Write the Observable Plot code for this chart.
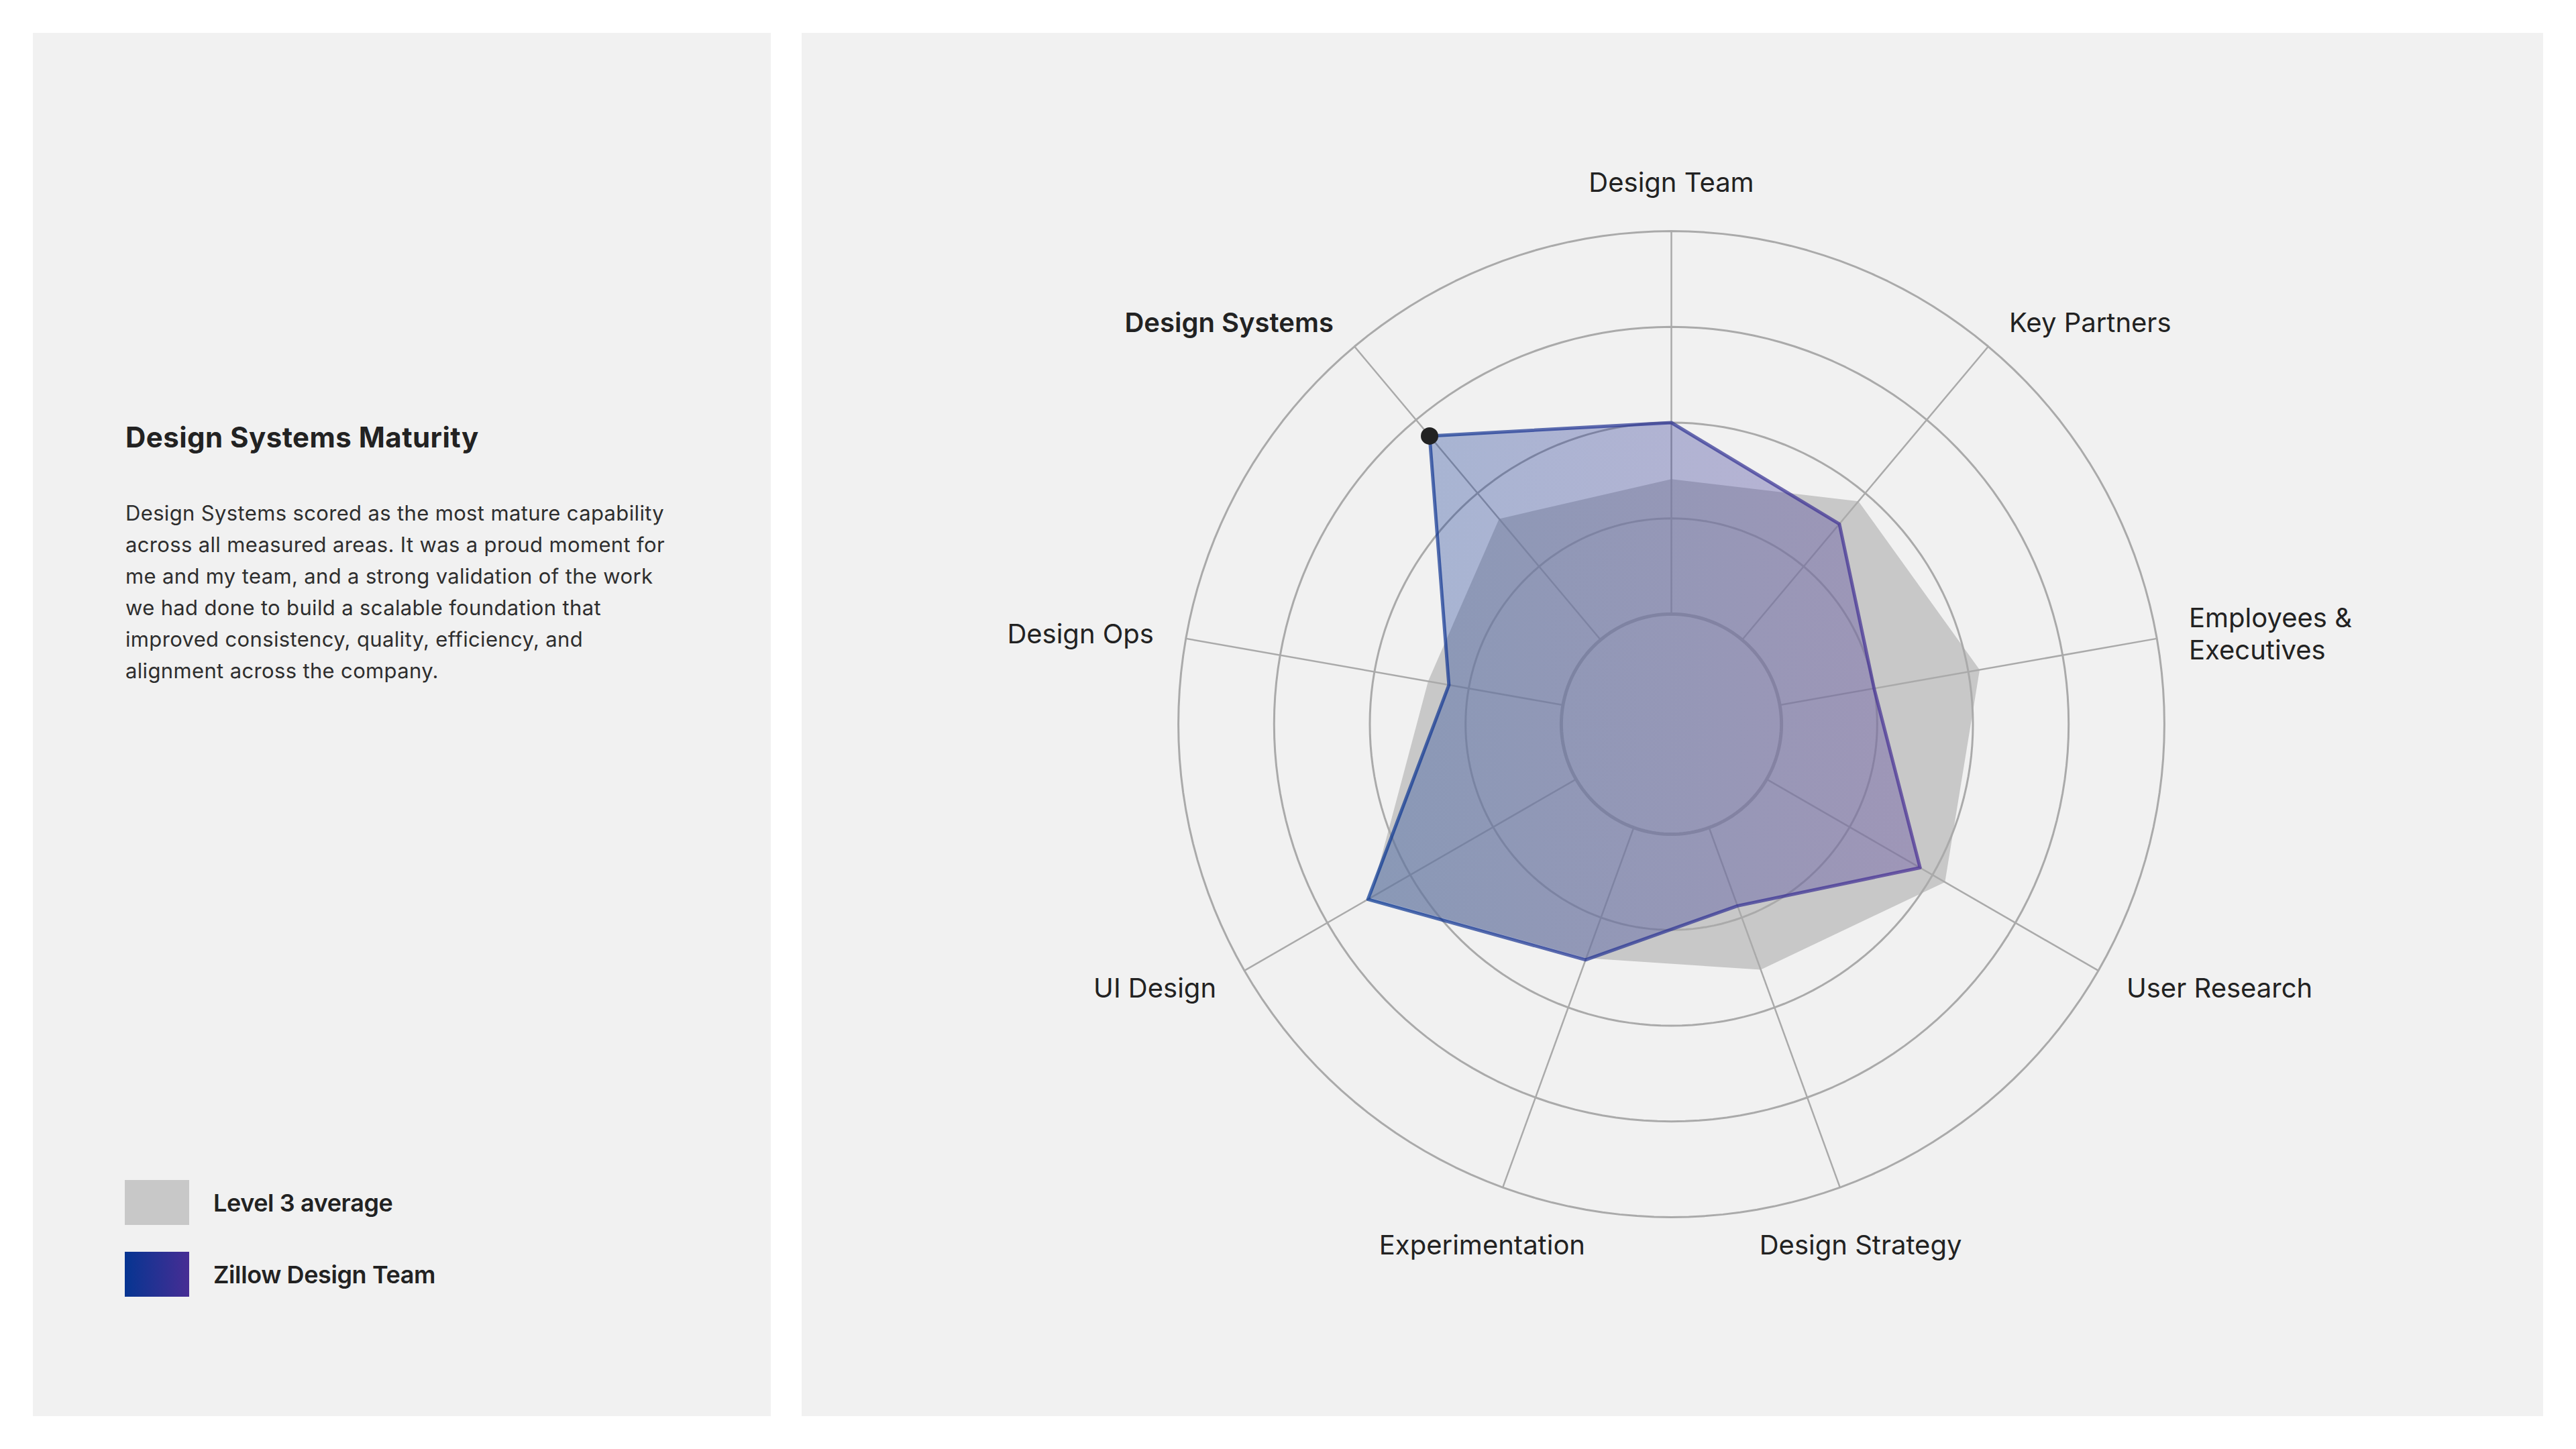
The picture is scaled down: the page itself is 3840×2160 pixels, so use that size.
<!DOCTYPE html>
<html>
<head>
<meta charset="utf-8">
<script src="https://cdn.jsdelivr.net/npm/d3@7"></script>
<script src="https://cdn.jsdelivr.net/npm/@observablehq/plot@0.6"></script>
<style>
  html, body { margin: 0; padding: 0; background: #ffffff; }
  body { width: 3840px; height: 2160px; position: relative; overflow: hidden;
         font-family: Inter, "Noto Sans", sans-serif; color: #222222; }
  .panel { position: absolute; background: #f1f1f1; }
  #left { left: 49px; top: 49px; width: 1100px; height: 2062px; }
  #right { left: 1195px; top: 49px; width: 2596px; height: 2062px; }
  #title { position: absolute; left: 138px; top: 578px; font-size: 42px; font-weight: 700;
           line-height: 50px; letter-spacing: 0.45px; white-space: nowrap; color: #222; }
  #desc { position: absolute; left: 138px; top: 692px; font-size: 31px; line-height: 47px;
          letter-spacing: 0.35px; white-space: nowrap; color: #2e2e2e; }
  .legend-item { position: absolute; left: 137px; height: 67px; display: flex; align-items: center; }
  .swatch { width: 96px; height: 67px; margin-right: 36px; flex: none; }
  .legend-item span { font-size: 36px; font-weight: 600; letter-spacing: -0.4px; white-space: nowrap; color: #222; }
  #right svg { display: block; }
</style>
</head>
<body>
<div id="left" class="panel">
  <div id="title"></div>
  <div id="desc"></div>
  <div id="legend"></div>
</div>
<div id="right" class="panel"></div>
<script>
// ---------------- data ----------------
const axes = [
  "Design Team", "Key Partners", "Employees &\nExecutives", "User Research",
  "Design Strategy", "Experimentation", "UI Design", "Design Ops", "Design Systems"
];
const zillowScores = [3.00, 2.58, 2.00, 2.85, 1.87, 2.47, 3.51, 2.21, 3.78];
const level3Scores = [2.41, 2.89, 3.12, 3.15, 2.58, 2.45, 3.48, 2.43, 2.65];
const levels = [1, 2, 3, 4, 5];
const seriesNames = ["Level 3 average", "Zillow Design Team"];
const highlightAxis = "Design Systems";
const titleText = "Design Systems Maturity";
const descLines = [
  "Design Systems scored as the most mature capability",
  "across all measured areas. It was a proud moment for",
  "me and my team, and a strong validation of the work",
  "we had done to build a scalable foundation that",
  "improved consistency, quality, efficiency, and",
  "alignment across the company."
];

// ---------------- styles ----------------
const greyFill = "#c8c8c8";
const gridColor = "#aaaaaa";
const gradStart = "#063591";
const gradEnd = "#472d94";

// ---------------- left panel ----------------
document.getElementById("title").textContent = titleText;
document.getElementById("desc").innerHTML = descLines.map(l => l.replace(/&/g, "&amp;")).join("<br>");
const legend = document.getElementById("legend");
const swatchStyles = [
  `background:${greyFill}`,
  `background:linear-gradient(90deg, ${gradStart}, ${gradEnd})`
];
const legendTops = [1710, 1817];
seriesNames.forEach((name, k) => {
  const item = document.createElement("div");
  item.className = "legend-item";
  item.style.top = legendTops[k] + "px";
  const sw = document.createElement("div");
  sw.className = "swatch";
  sw.setAttribute("style", swatchStyles[k]);
  const lab = document.createElement("span");
  lab.textContent = name;
  item.appendChild(sw);
  item.appendChild(lab);
  legend.appendChild(item);
});

// ---------------- radar geometry ----------------
const W = 2596, H = 2062, CX = 1296, CY = 1030;
const PX_PER_UNIT = 142.7;   // pixels per level step
const INNER_OFFSET = 0.15;   // radial offset of level 0
const n = axes.length;
const ang = i => i * 2 * Math.PI / n;
const rad = v => v + INNER_OFFSET;
const polar = (r, a) => ({ x: r * Math.sin(a), y: r * Math.cos(a) });

const toPoints = scores => axes.map((axis, i) => ({ axis, value: scores[i], ...polar(rad(scores[i]), ang(i)) }));
const zillowPts = toPoints(zillowScores);
const level3Pts = toPoints(level3Scores);

const ringPts = levels.flatMap(l => d3.range(0, 360, 2).map(deg => ({ level: l, ...polar(rad(l), deg * Math.PI / 180) })));

const spokes = axes.map((axis, i) => {
  const a = polar(rad(levels[0]), ang(i)), b = polar(rad(levels[levels.length - 1]), ang(i));
  return { axis, x1: a.x, y1: a.y, x2: b.x, y2: b.y };
});

const labels = axes.map((axis, i) => {
  const s = Math.sin(ang(i)), c = Math.cos(ang(i));
  const anchor = s > 0.5 ? "start" : s < -0.5 ? "end" : "middle";
  const R = anchor === "middle" ? (c > 0 ? 5.67 : 5.78) : 5.49;
  return { label: axis, anchor, ...polar(R, ang(i)) };
});

const maxIdx = d3.maxIndex(zillowScores);

const labelMark = (data, anchor, weight) => Plot.text(data, {
  x: "x", y: "y", text: "label", textAnchor: anchor, lineAnchor: "middle",
  fontSize: 40, fontWeight: weight, fill: "#222222", lineHeight: 1.22
});

const chart = Plot.plot({
  width: W, height: H, margin: 0,
  x: { domain: [-CX / PX_PER_UNIT, (W - CX) / PX_PER_UNIT], axis: null },
  y: { domain: [-(H - CY) / PX_PER_UNIT, CY / PX_PER_UNIT], axis: null },
  style: { background: "transparent", fontFamily: "Inter, 'Noto Sans', sans-serif", overflow: "visible" },
  marks: [
    () => {
      const defs = d3.create("svg:defs");
      const lg = defs.append("linearGradient").attr("id", "zg")
        .attr("x1", "0").attr("x2", "1").attr("y1", "0").attr("y2", "0");
      lg.append("stop").attr("offset", "0%").attr("stop-color", gradStart);
      lg.append("stop").attr("offset", "100%").attr("stop-color", gradEnd);
      return defs.node();
    },
    Plot.line(level3Pts, { x: "x", y: "y", curve: "linear-closed", fill: greyFill, stroke: "none" }),
    Plot.line(ringPts.filter(d => d.level !== levels[0]), { x: "x", y: "y", z: "level", curve: "linear-closed", stroke: gridColor, strokeWidth: 3 }),
    Plot.line(ringPts.filter(d => d.level === levels[0]), { x: "x", y: "y", z: "level", curve: "linear-closed", stroke: gridColor, strokeWidth: 5 }),
    Plot.link(spokes, { x1: "x1", y1: "y1", x2: "x2", y2: "y2", stroke: gridColor, strokeWidth: 2.5 }),
    Plot.line(zillowPts, { x: "x", y: "y", curve: "linear-closed", fill: "url(#zg)", fillOpacity: 0.32,
      stroke: "url(#zg)", strokeOpacity: 0.7, strokeWidth: 5, strokeLinejoin: "round" }),
    Plot.dot([zillowPts[maxIdx]], { x: "x", y: "y", r: 13, fill: "#222222", stroke: "none" }),
    ...["start", "middle", "end"].map(a => labelMark(labels.filter(d => d.anchor === a && d.label !== highlightAxis), a, 400)),
    ...labels.filter(d => d.label === highlightAxis).map(d => labelMark([d], d.anchor, 600))
  ]
});
document.getElementById("right").appendChild(chart);
</script>
</body>
</html>
